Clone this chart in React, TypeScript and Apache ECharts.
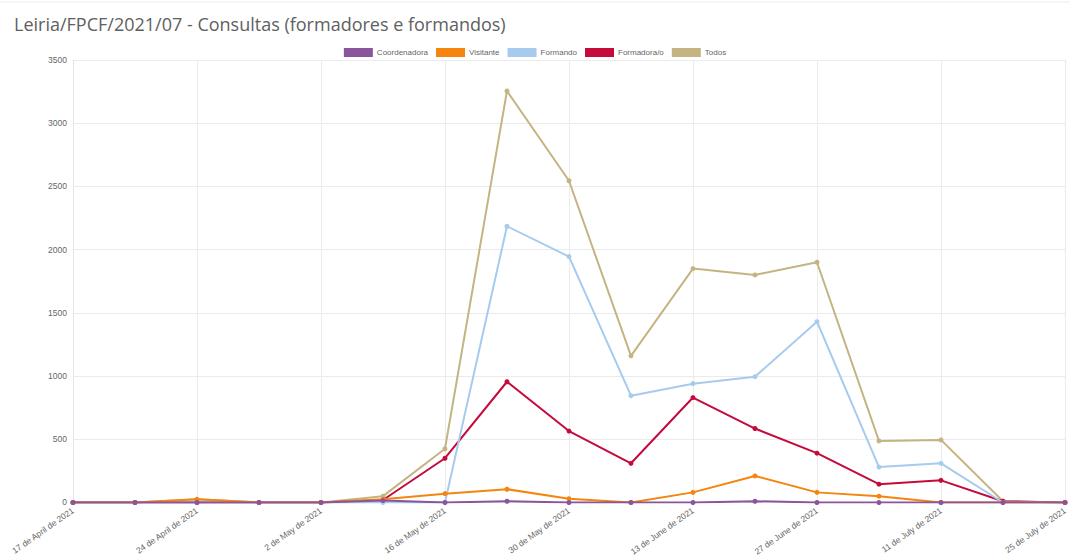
import React, { useEffect, useRef } from "react";
import * as echarts from "echarts";

const categories = [
  "17 de April de 2021",
  "20 de April de 2021",
  "24 de April de 2021",
  "28 de April de 2021",
  "2 de May de 2021",
  "9 de May de 2021",
  "16 de May de 2021",
  "23 de May de 2021",
  "30 de May de 2021",
  "6 de June de 2021",
  "13 de June de 2021",
  "20 de June de 2021",
  "27 de June de 2021",
  "4 de July de 2021",
  "11 de July de 2021",
  "18 de July de 2021",
  "25 de July de 2021",
];

const coordenadora = [0, 0, 0, 0, 0, 15, 0, 10, 0, 0, 0, 10, 0, 0, 0, 0, 0];
const visitante = [0, 0, 25, 0, 0, 25, 70, 105, 30, 0, 80, 210, 80, 50, 0, 0, 0];
const formando = [0, 0, 0, 0, 0, 0, 0, 2185, 1945, 845, 940, 995, 1430, 280, 310, 0, 0];
const formadora = [0, 0, 0, 0, 0, 20, 350, 955, 565, 310, 830, 585, 390, 145, 175, 10, 0];
const todos = [0, 0, 25, 0, 0, 50, 425, 3255, 2545, 1160, 1850, 1800, 1900, 487, 495, 10, 0];

const seriesNames = ["Coordenadora", "Visitante", "Formando", "Formadora/o", "Todos"];
const seriesData = [coordenadora, visitante, formando, formadora, todos];
const colors = ["#8b559b", "#f5850e", "#a6cbee", "#c50a3c", "#c4b482"];

export default function App() {
  const ref = useRef<HTMLDivElement>(null);
  useEffect(() => {
    if (!ref.current) return;
    const chart = echarts.init(ref.current, undefined, { renderer: "svg" });
    chart.setOption({
      animation: false,
      backgroundColor: "#ffffff",
      title: {
        text: "Leiria/FPCF/2021/07 - Consultas (formadores e formandos)",
        left: 9,
        top: 10,
        textStyle: {
          fontFamily: "Open Sans",
          fontSize: 18,
          fontWeight: "normal",
          color: "#606060",
        },
      },
      graphic: [
        {
          type: "line",
          shape: { x1: 0, y1: 2, x2: 1070, y2: 2 },
          style: { stroke: "#eeeeee", lineWidth: 1 },
        },
      ],
      legend: {
        top: 43,
        left: "center",
        itemWidth: 29,
        itemHeight: 9,
        itemGap: 8,
        icon: "rect",
        data: seriesNames,
        textStyle: { fontFamily: "Arial", fontSize: 8, color: "#666666", padding: [0, 0, 0, -1] },
      },
      grid: { left: 73, right: 4, top: 60, bottom: 51, containLabel: false },
      xAxis: {
        type: "category",
        data: categories,
        boundaryGap: false,
        axisLine: { show: true, lineStyle: { color: "#e6e6e6" } },
        axisTick: { show: false },
        splitLine: { show: true, interval: 1, lineStyle: { color: "#ebebeb" } },
        axisLabel: {
          interval: 1,
          rotate: 35,
          fontSize: 8.5,
          fontFamily: "Arial",
          color: "#666666",
          margin: 7,
        },
      },
      yAxis: {
        type: "value",
        min: 0,
        max: 3500,
        interval: 500,
        axisLine: { show: true, lineStyle: { color: "#e6e6e6" } },
        axisTick: { show: false },
        splitLine: { show: true, lineStyle: { color: "#ebebeb" } },
        axisLabel: {
          fontSize: 8.5,
          fontFamily: "Arial",
          color: "#666666",
          margin: 6,
          formatter: (v: number) => String(v),
        },
      },
      series: seriesNames.map((name, i) => ({
        name,
        type: "line",
        data: seriesData[i],
        color: colors[i],
        z: 10 - i,
        symbol: "circle",
        symbolSize: 5,
        lineStyle: { width: 2, color: colors[i] },
        itemStyle: { color: colors[i] },
      })),
    });
    return () => chart.dispose();
  }, []);
  return (
    <div
      ref={ref}
      style={{ position: "fixed", left: 0, top: 0, width: 1070, height: 558 }}
    />
  );
}
